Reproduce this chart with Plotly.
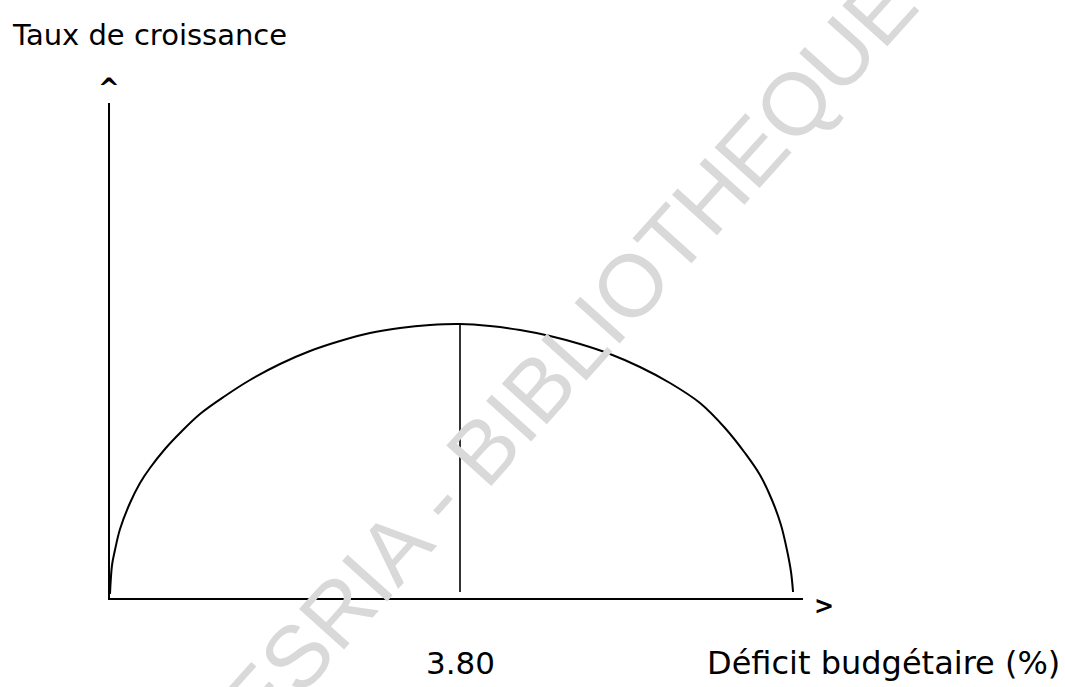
import plotly.graph_objects as go

# ---- data ----
deficit = [0.000, 0.022, 0.054, 0.109, 0.217, 0.326, 0.434, 0.597, 0.760, 0.977,
           1.249, 1.520, 1.846, 2.172, 2.497, 2.823, 3.149, 3.474, 3.800,
           4.126, 4.452, 4.777, 5.103, 5.428, 5.754, 6.080, 6.406, 6.677,
           6.894, 7.057, 7.187, 7.285, 7.350, 7.394, 7.416]
croissance = [0.04, 0.33, 0.48, 0.69, 0.95, 1.15, 1.30, 1.49, 1.65, 1.84,
              2.02, 2.18, 2.34, 2.47, 2.57, 2.65, 2.70, 2.73, 2.74,
              2.72, 2.68, 2.62, 2.54, 2.44, 2.31, 2.15, 1.95, 1.70,
              1.45, 1.23, 0.98, 0.73, 0.48, 0.26, 0.06]
peak_x = 3.80
peak_y = 2.74
peak_label = "3.80"
x_title = "Déficit budgétaire (%)"
y_title = "Taux de croissance"
watermark = "CODESRIA - BIBLIOTHEQUE"

W, H = 1065, 687
# plot-area box in pixels (left, right, top, bottom)
PX0, PX1, PY0, PY1 = 110, 803, 103, 598
X_PER_PX = 1 / 92.105
Y_PER_PX = 1 / 100.0


def px(x):
    return x / W


def py(y):
    return 1 - y / H


fig = go.Figure()
fig.add_trace(go.Scatter(x=deficit, y=croissance, mode="lines",
                         line=dict(color="black", width=2, shape="spline", smoothing=1.0),
                         hoverinfo="skip", showlegend=False))
fig.add_trace(go.Scatter(x=[peak_x, peak_x], y=[0.06, peak_y], mode="lines",
                         line=dict(color="black", width=1.6),
                         hoverinfo="skip", showlegend=False))

font_main = "DejaVu Sans"
ann = [
    dict(text=watermark, xref="x", yref="y",
         x=(503 - PX0) * X_PER_PX, y=(PY1 - 428) * Y_PER_PX, textangle=-48,
         font=dict(family="Liberation Sans", size=88, color="#d9d9d9"),
         showarrow=False, xanchor="center", yanchor="middle"),
    dict(text=y_title, xref="paper", yref="paper", x=px(10), y=py(35),
         xanchor="left", yanchor="middle",
         font=dict(family=font_main, size=29, color="black"), showarrow=False),
    dict(text=peak_label, xref="x", yref="paper", x=peak_x, y=py(663),
         xanchor="center", yanchor="middle",
         font=dict(family=font_main, size=31, color="black"), showarrow=False),
    dict(text=x_title, xref="paper", yref="paper", x=px(1062), y=py(663),
         xanchor="right", yanchor="middle",
         font=dict(family=font_main, size=32, color="black"), showarrow=False),
    dict(text="^", xref="paper", yref="paper", x=px(109), y=py(88),
         xanchor="center", yanchor="middle",
         font=dict(family=font_main, size=26, color="black", weight="bold"), showarrow=False),
    dict(text="&gt;", xref="paper", yref="paper", x=px(824), y=py(606),
         xanchor="center", yanchor="middle",
         font=dict(family=font_main, size=24, color="black", weight="bold"), showarrow=False),
]

fig.update_layout(
    width=W, height=H,
    margin=dict(l=0, r=0, t=0, b=0, autoexpand=False),
    paper_bgcolor="white", plot_bgcolor="rgba(0,0,0,0)",
    annotations=ann,
    xaxis=dict(domain=[PX0 / W, PX1 / W], range=[0, (PX1 - PX0) * X_PER_PX],
               showline=True, linecolor="black", linewidth=2,
               showgrid=False, zeroline=False, showticklabels=False, ticks="", fixedrange=True),
    yaxis=dict(domain=[1 - PY1 / H, 1 - PY0 / H], range=[0, (PY1 - PY0) * Y_PER_PX],
               showline=True, linecolor="black", linewidth=2,
               showgrid=False, zeroline=False, showticklabels=False, ticks="", fixedrange=True),
)

fig.write_html("out.html", config={"displayModeBar": False},
               post_script="document.body.style.margin='0';")
